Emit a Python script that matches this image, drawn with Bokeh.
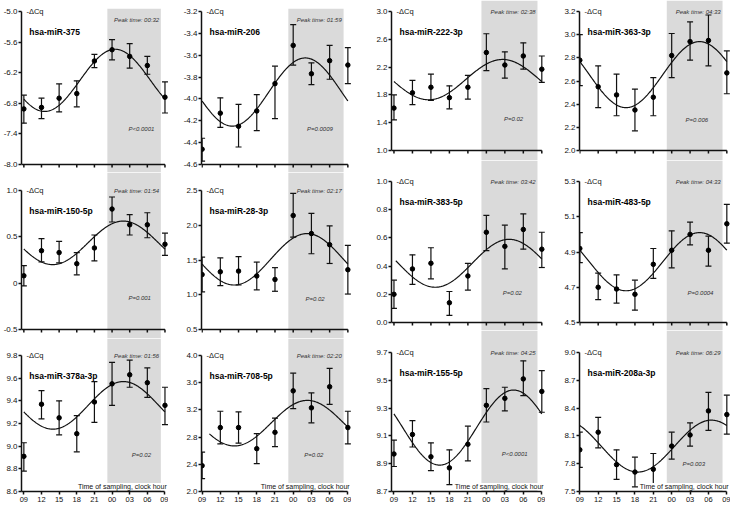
import numpy as np
from bokeh.plotting import figure
from bokeh.layouts import row, column
from bokeh.models import ColumnDataSource, Whisker, TeeHead, BoxAnnotation, Label, FixedTicker, Range1d
from bokeh.embed import file_html
from bokeh.resources import INLINE

# ---------------- data ----------------
hours = [0, 3, 6, 9, 12, 15, 18, 21, 24]
hour_labels = ["09", "12", "15", "18", "21", "00", "03", "06", "09"]
night = [14.2, 23.3]  # shaded sampling hours (from 09:00)

names = ["hsa-miR-375", "hsa-miR-206", "hsa-miR-222-3p", "hsa-miR-363-3p",
         "hsa-miR-150-5p", "hsa-miR-28-3p", "hsa-miR-383-5p", "hsa-miR-483-5p",
         "hsa-miR-378a-3p", "hsa-miR-708-5p", "hsa-miR-155-5p", "hsa-miR-208a-3p"]
peak_times = ["00:32", "01:59", "02:38", "04:33", "01:54", "02:17", "03:42", "04:33",
              "01:56", "02:20", "04:25", "06:29"]
p_values = ["P<0.0001", "P=0.0009", "P=0.02", "P=0.006", "P=0.001", "P=0.02", "P=0.02", "P=0.0004",
            "P=0.02", "P=0.02", "P<0.0001", "P=0.003"]

mir375_mean = [-6.91, -6.88, -6.70, -6.61, -5.97, -5.75, -5.88, -6.06, -6.68]
mir375_low = [-7.19, -7.10, -6.97, -6.87, -6.10, -5.95, -6.11, -6.23, -6.99]
mir375_high = [-6.64, -6.70, -6.42, -6.36, -5.84, -5.55, -5.63, -5.88, -6.38]

mir206_mean = [-4.46, -4.13, -4.25, -4.11, -3.86, -3.51, -3.77, -3.65, -3.69]
mir206_low = [-4.57, -4.26, -4.44, -4.29, -4.18, -3.69, -3.87, -3.82, -3.86]
mir206_high = [-4.36, -3.99, -4.05, -3.96, -3.70, -3.32, -3.67, -3.51, -3.53]

mir222_mean = [1.61, 1.83, 1.91, 1.76, 1.91, 2.41, 2.23, 2.36, 2.17]
mir222_low = [1.44, 1.66, 1.72, 1.60, 1.74, 2.15, 2.04, 2.17, 1.98]
mir222_high = [1.80, 2.01, 2.10, 1.93, 2.08, 2.68, 2.42, 2.55, 2.36]

mir363_mean = [2.78, 2.55, 2.48, 2.35, 2.46, 2.82, 2.94, 2.95, 2.67]
mir363_low = [2.56, 2.37, 2.30, 2.17, 2.30, 2.63, 2.78, 2.73, 2.49]
mir363_high = [3.00, 2.73, 2.66, 2.53, 2.63, 3.01, 3.11, 3.17, 2.86]

mir150_mean = [0.08, 0.35, 0.33, 0.21, 0.38, 0.80, 0.63, 0.63, 0.42]
mir150_low = [-0.03, 0.23, 0.22, 0.09, 0.24, 0.66, 0.52, 0.49, 0.30]
mir150_high = [0.19, 0.48, 0.45, 0.33, 0.52, 0.93, 0.74, 0.76, 0.54]

mir28_mean = [1.29, 1.33, 1.34, 1.27, 1.22, 2.14, 1.88, 1.72, 1.36]
mir28_low = [1.04, 1.13, 1.14, 1.07, 1.05, 1.83, 1.59, 1.45, 1.01]
mir28_high = [1.54, 1.53, 1.55, 1.47, 1.39, 2.46, 2.17, 1.99, 1.71]

mir383_mean = [0.20, 0.38, 0.42, 0.14, 0.33, 0.64, 0.54, 0.66, 0.52]
mir383_low = [0.10, 0.27, 0.31, 0.05, 0.23, 0.51, 0.38, 0.52, 0.39]
mir383_high = [0.30, 0.48, 0.53, 0.22, 0.42, 0.76, 0.69, 0.77, 0.64]

mir483_mean = [4.92, 4.70, 4.69, 4.66, 4.83, 4.91, 5.00, 4.91, 5.06]
mir483_low = [4.84, 4.63, 4.61, 4.57, 4.75, 4.81, 4.94, 4.82, 4.95]
mir483_high = [5.01, 4.78, 4.77, 4.74, 4.92, 5.02, 5.07, 4.99, 5.17]

mir378_mean = [8.91, 9.37, 9.25, 9.11, 9.39, 9.55, 9.63, 9.56, 9.36]
mir378_low = [8.78, 9.24, 9.10, 8.95, 9.21, 9.36, 9.52, 9.43, 9.19]
mir378_high = [9.03, 9.49, 9.40, 9.27, 9.57, 9.74, 9.76, 9.69, 9.52]

mir708_mean = [2.38, 2.94, 2.94, 2.63, 2.87, 3.48, 3.23, 3.54, 2.94]
mir708_low = [2.19, 2.70, 2.71, 2.41, 2.66, 3.22, 3.01, 3.28, 2.70]
mir708_high = [2.58, 3.18, 3.17, 2.85, 3.08, 3.74, 3.45, 3.81, 3.18]

mir155_mean = [8.97, 9.11, 8.95, 8.87, 9.04, 9.32, 9.37, 9.51, 9.42]
mir155_low = [8.88, 9.02, 8.85, 8.75, 8.92, 9.20, 9.28, 9.39, 9.27]
mir155_high = [9.07, 9.21, 9.05, 9.00, 9.17, 9.44, 9.45, 9.64, 9.57]

mir208_mean = [7.95, 8.14, 7.79, 7.71, 7.74, 7.99, 8.11, 8.37, 8.33]
mir208_low = [7.76, 7.97, 7.63, 7.55, 7.58, 7.85, 7.99, 8.16, 8.12]
mir208_high = [8.14, 8.30, 7.95, 7.87, 7.91, 8.14, 8.24, 8.57, 8.54]

# cosinor fit parameters (mesor, amplitude, first hour drawn); peak = peak_times
fit_mesor = [-6.35, -3.937, 2.02, 2.655, 0.435, 1.51, 0.42, 4.845, 9.36, 3.005, 9.16, 7.99]
fit_amp = [0.61, 0.312, 0.29, 0.285, 0.235, 0.37, 0.17, 0.165, 0.21, 0.335, 0.27, 0.28]
fit_start = [0, 0, 0, 0, 0, 0, 0.3, 0, 0, 1.2, 0, 0]

ticks_375 = ["-8.0", "-7.4", "-6.8", "-6.2", "-5.6", "-5.0"]
ticks_206 = ["-4.6", "-4.4", "-4.2", "-4.0", "-3.8", "-3.6", "-3.4", "-3.2"]
ticks_222 = ["1.0", "1.4", "1.8", "2.2", "2.6", "3.0"]
ticks_363 = ["2.0", "2.2", "2.4", "2.6", "2.8", "3.0", "3.2"]
ticks_150 = ["-0.5", "0", "0.5", "1.0"]
ticks_28 = ["0.5", "1.0", "1.5", "2.0", "2.5"]
ticks_383 = ["0.0", "0.2", "0.4", "0.6", "0.8", "1.0"]
ticks_483 = ["4.5", "4.7", "4.9", "5.1", "5.3"]
ticks_378 = ["8.6", "8.8", "9.0", "9.2", "9.4", "9.6", "9.8"]
ticks_708 = ["2.0", "2.4", "2.8", "3.2", "3.6", "4.0"]
ticks_155 = ["8.7", "8.9", "9.1", "9.3", "9.5", "9.7"]
ticks_208 = ["7.5", "7.8", "8.1", "8.4", "8.7", "9.0"]

means = [mir375_mean, mir206_mean, mir222_mean, mir363_mean, mir150_mean, mir28_mean,
         mir383_mean, mir483_mean, mir378_mean, mir708_mean, mir155_mean, mir208_mean]
lows = [mir375_low, mir206_low, mir222_low, mir363_low, mir150_low, mir28_low,
        mir383_low, mir483_low, mir378_low, mir708_low, mir155_low, mir208_low]
highs = [mir375_high, mir206_high, mir222_high, mir363_high, mir150_high, mir28_high,
         mir383_high, mir483_high, mir378_high, mir708_high, mir155_high, mir208_high]
tick_sets = [ticks_375, ticks_206, ticks_222, ticks_363, ticks_150, ticks_28,
             ticks_383, ticks_483, ticks_378, ticks_708, ticks_155, ticks_208]

# ---------------- layout (pixels) ----------------
FONT = "Liberation Sans"
GRAY = "#dadada"
INK = "#111111"
AXW = 1.5
col_geom = [dict(L=18, F=150, x0=-0.4), dict(L=33, F=150, x0=-0.1),
            dict(L=40, F=154, x0=-0.4), dict(L=34, F=151, x0=-0.05)]
X_END = 24.6
# (figure top, frame top, top-tick px, bottom-tick px, frame bottom, figure bottom)
left_rows = [(0, 8, 11, 164, 172, 172), (172, 172, 190, 329, 338, 338),
             (338, 338, 355, 491, 491, 509)]
right_rows = [(0, 0, 11, 150, 160, 160), (160, 160, 181, 322, 330, 330),
              (330, 330, 352, 491, 491, 509)]
p_x = [20.0, 19.4, 19.4, 19.1, 19.7, 18.6, 19.2, 19.7, 20.0, 18.4, 19.6, 18.6]
p_frac = [0.235, 0.235, 0.23, 0.22, 0.225, 0.22, 0.21, 0.21, 0.27, 0.27, 0.27, 0.2]


def hour_of(t):
    hh, mm = t.split(":")
    h = int(hh) + int(mm) / 60.0
    return (h - 9) % 24


def make_panel(i):
    r, c = divmod(i, 4)
    g = col_geom[c]
    ft, T, yh, yl, B, fb = (left_rows if c < 2 else right_rows)[r]
    ticks = [float(t) for t in tick_sets[i]]
    lo, hi = ticks[0], ticks[-1]
    s = (hi - lo) / (yl - yh)
    y_end = hi + (yh - T) * s
    y_start = lo - (B - yl) * s
    width = g["L"] + g["F"]
    pxh = g["F"] / (X_END - g["x0"])

    p = figure(width=width, height=fb - ft, output_backend="svg", toolbar_location=None,
               x_range=Range1d(g["x0"], X_END), y_range=Range1d(y_start, y_end),
               min_border_left=g["L"], min_border_right=0, min_border_top=T - ft,
               min_border_bottom=fb - B)
    p.outline_line_color = None
    p.grid.visible = False
    p.background_fill_color = "white"
    p.border_fill_color = "white"

    p.add_layout(BoxAnnotation(left=night[0], right=night[1], fill_color=GRAY, fill_alpha=1.0,
                               line_alpha=0, level="underlay"))

    # y axis
    ya = p.yaxis[0]
    ya.ticker = FixedTicker(ticks=ticks, minor_ticks=[])
    ya.major_label_overrides = {float(t): t for t in tick_sets[i]}
    ya.bounds = (lo, hi)
    ya.major_tick_out = 3
    ya.major_tick_in = 0
    ya.minor_tick_line_color = None
    ya.major_label_standoff = 1
    ya.major_label_text_font = FONT
    ya.major_label_text_font_size = "8px"
    ya.major_label_text_color = INK
    ya.axis_line_color = INK
    ya.axis_line_width = AXW
    ya.major_tick_line_color = INK
    ya.major_tick_line_width = AXW

    # x axis
    xa = p.xaxis[0]
    if r == 2:
        xa.ticker = FixedTicker(ticks=hours, minor_ticks=[])
        xa.major_label_overrides = {h: l for h, l in zip(hours, hour_labels)}
        xa.bounds = (g["x0"], 24)
        xa.major_tick_out = 3
        xa.major_tick_in = 0
        xa.minor_tick_line_color = None
        xa.axis_line_color = INK
        xa.axis_line_width = AXW
        xa.major_tick_line_color = INK
        xa.major_tick_line_width = AXW
        xa.major_label_text_font = FONT
        xa.major_label_text_font_size = "7.5px"
        xa.major_label_text_color = INK
        xa.major_label_standoff = 2
    else:
        # unlabeled time axis sitting inside the shaded frame (shading runs through it)
        xa.visible = False
        p.line(x=[g["x0"], hours[-1]], y=[lo, lo], line_color=INK, line_width=AXW)
        p.multi_line(xs=[[h, h] for h in hours], ys=[[lo, lo - 3 * s] for h in hours],
                     line_color=INK, line_width=AXW)

    # data
    src = ColumnDataSource(dict(x=hours, y=means[i], lo=lows[i], hi=highs[i]))
    p.add_layout(Whisker(base="x", lower="lo", upper="hi", source=src, line_color=INK,
                         line_width=1.2,
                         lower_head=TeeHead(size=6, line_color=INK, line_width=1.2),
                         upper_head=TeeHead(size=6, line_color=INK, line_width=1.2)))
    tt = np.linspace(fit_start[i], 24, 241)
    pk = hour_of(peak_times[i])
    yy = fit_mesor[i] + fit_amp[i] * np.cos(2 * np.pi * (tt - pk) / 24.0)
    p.line(tt, yy, line_color="#111111", line_width=1.2)
    p.scatter("x", "y", source=src, size=4.5, color="black")

    # texts
    p.add_layout(Label(x=g["x0"] + 5 / pxh, y=hi, text="-ΔCq", text_font=FONT,
                       text_font_size="7.5px", text_baseline="middle", text_color=INK))
    p.add_layout(Label(x=g["x0"] + 8 / pxh, y=hi - 20 * s, text=names[i], text_font=FONT,
                       text_font_size="8.5px", text_font_style="bold", text_baseline="middle",
                       text_color="black"))
    off = 8 if (r == 0 and c < 2) else 0
    p.add_layout(Label(x=23.0, y=hi - off * s, text="Peak time: " + peak_times[i], text_font=FONT,
                       text_font_size="6px", text_font_style="italic", text_align="right",
                       text_baseline="middle", text_color="#333333"))
    p.add_layout(Label(x=p_x[i], y=lo + p_frac[i] * (hi - lo), text=p_values[i], text_font=FONT,
                       text_font_size="6px", text_font_style="italic", text_align="center",
                       text_baseline="middle", text_color="#333333"))
    if r == 2:
        p.add_layout(Label(x=24.3, y=lo + 1.5 * s, text="Time of sampling, clock hour",
                           text_font=FONT, text_font_size="7px", text_align="right",
                           text_baseline="bottom", text_color="#111111",
                           background_fill_color="white"))
    return p


cols = []
for c in range(4):
    cols.append(column([make_panel(r * 4 + c) for r in range(3)], spacing=0))
layout = row(cols, spacing=0)

open("out.html", "w").write(file_html(layout, INLINE))
